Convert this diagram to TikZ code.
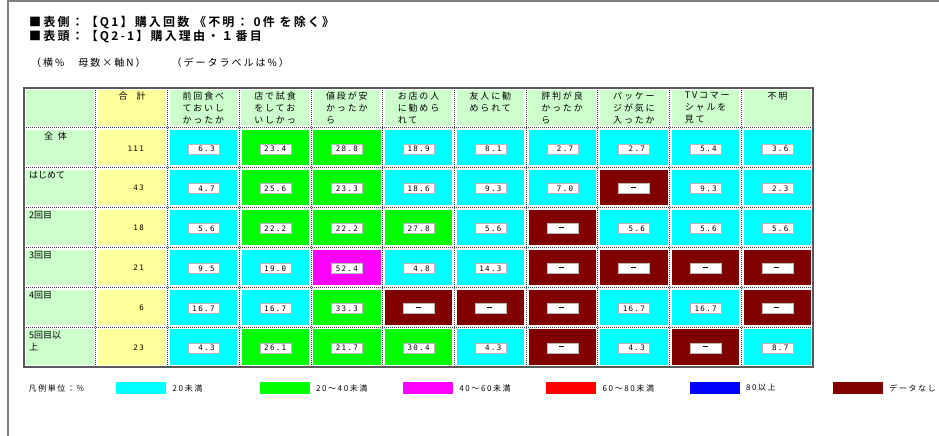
\documentclass[tikz,border=0pt]{standalone}
\usepackage{fontspec}
\newfontfamily\jp{Noto Sans CJK JP}[BoldFont={Noto Sans CJK JP Bold}]
\newfontfamily\jpls{Noto Sans CJK JP}[LetterSpace=20]
\newfontfamily\jptitle{Noto Sans CJK JP Bold}[LetterSpace=18]
\newfontfamily\numfont{DejaVu Sans Mono}[LetterSpace=18]
\definecolor{hdr}{HTML}{CCFFCC}
\definecolor{totc}{HTML}{FFFF99}
\definecolor{fillC}{HTML}{00FFFF}
\definecolor{fillG}{HTML}{00FF00}
\definecolor{fillM}{HTML}{FF00FF}
\definecolor{fillR}{HTML}{FF0000}
\definecolor{fillB}{HTML}{0000FF}
\definecolor{fillD}{HTML}{800000}
\newcommand\dashmark{\makebox[0pt][c]{\rule[2.6pt]{5pt}{0.9pt}}\rule{11.5pt}{0pt}}
\tikzset{
  titletext/.style={anchor=west,inner sep=0,font=\jptitle\fontsize{12}{14}\selectfont},
  subtext/.style={anchor=west,inner sep=0,font=\jpls\fontsize{10}{12}\selectfont},
  hdrtext/.style={anchor=north west,inner sep=0,align=left,font=\jpls\fontsize{9}{12}\selectfont},
  rowtext/.style={anchor=north west,inner sep=0,align=left,font=\jp\fontsize{9}{12}\selectfont},
  numtext/.style={anchor=east,inner sep=0,font=\numfont\fontsize{7.5}{9}\selectfont},
  valbox/.style={rectangle,minimum width=31pt,minimum height=10pt,inner sep=0,fill=white,draw=gray!55,line width=0.5pt},
  legtext/.style={anchor=west,inner sep=0,font=\jpls\fontsize{8}{10}\selectfont},
  gridline/.style={draw=black!75,line width=0.8pt,dash pattern=on 1pt off 1pt},
  frameline/.style={draw=black!65,line width=1.3pt},
  swatch/.style={rectangle,minimum width=50pt,minimum height=12pt,inner sep=0}
}
\begin{document}
\begin{tikzpicture}[x=1pt,y=-1pt]
\useasboundingbox (0,0) rectangle (939,436);
\fill[white] (0,0) rectangle (939,436);
% window frame
\draw[gray,line width=2pt] (7.7,1) -- (939,1);
\draw[gray,line width=2pt] (7.7,0) -- (7.7,436);
% titles
\node[titletext] (t1) at (29,22.5) {■表側：【Q1】購入回数 《不明： 0件 を除く》};
\node[titletext] (t2) at (29,37) {■表頭：【Q2-1】購入理由・１番目};
\node[subtext] (t3) at (31,63) {（横\%　母数×軸N）　　（データラベルは\%）};
% header row fills
\fill[hdr] (26.3,90.3) rectangle (93.7,125.9);
\fill[totc] (98.3,90.3) rectangle (165.4,125.9);
\foreach \i in {2,...,10}{
  \pgfmathsetmacro\xl{24+\i*71.73}
  \fill[hdr] (\xl+2.3,90.3) rectangle (\xl+71.73-2.3,125.9);
}
% header texts
\node[anchor=north,inner sep=0,font=\jp\fontsize{9}{12}\selectfont] (h1) at (132,92) {合\hspace{9pt}計};
\node[hdrtext] (h2) at (182.5,92) {前回食べ\\ておいし\\かったか};
\node[hdrtext] (h3) at (254.2,92) {店で試食\\をしてお\\いしかっ};
\node[hdrtext] (h4) at (326,92) {値段が安\\かったか\\ら};
\node[hdrtext] (h5) at (397.7,92) {お店の人\\に勧めら\\れて};
\node[hdrtext] (h6) at (469.5,92) {友人に勧\\められて};
\node[hdrtext] (h7) at (541.2,92) {評判が良\\かったか\\ら};
\node[hdrtext] (h8) at (613,92) {パッケー\\ジが気に\\入ったか};
\node[hdrtext] (h9) at (684.7,92) {TVコマー\\シャルを\\見て};
\node[anchor=north,inner sep=0,font=\jpls\fontsize{9}{12}\selectfont] (h10) at (777.5,92) {不明};
% body rows
\foreach \r/\tot/\vals in {
 1/111/{6.3/C,23.4/G,28.8/G,18.9/C,8.1/C,2.7/C,2.7/C,5.4/C,3.6/C},
 2/43/{4.7/C,25.6/G,23.3/G,18.6/C,9.3/C,7.0/C,\dashmark/D,9.3/C,2.3/C},
 3/18/{5.6/C,22.2/G,22.2/G,27.8/G,5.6/C,\dashmark/D,5.6/C,5.6/C,5.6/C},
 4/21/{9.5/C,19.0/C,52.4/M,4.8/C,14.3/C,\dashmark/D,\dashmark/D,\dashmark/D,\dashmark/D},
 5/6/{16.7/C,16.7/C,33.3/G,\dashmark/D,\dashmark/D,\dashmark/D,16.7/C,16.7/C,\dashmark/D},
 6/23/{4.3/C,26.1/G,21.7/G,30.4/G,4.3/C,\dashmark/D,4.3/C,\dashmark/D,8.7/C}}{
  \pgfmathsetmacro\yt{88+\r*39.86}
  \fill[hdr] (26.3,\yt+2.3) rectangle (93.7,\yt+39.86-2.3);
  \fill[totc] (98.3,\yt+2.3) rectangle (165.4,\yt+39.86-2.3);
  \node[numtext] (n\r) at (144,\yt+20.5) {\tot};
  \foreach \v/\c [count=\i] in \vals {
    \pgfmathsetmacro\xl{96+\i*71.73}
    \fill[fill\c] (\xl+2.3,\yt+2.3) rectangle (\xl+71.73-2.3,\yt+39.86-2.3);
    \node[valbox] (b\r-\i) at (\xl+36,\yt+21) {};
    \node[numtext] (v\r-\i) at (\xl+47,\yt+21) {\v};
  }
}
% row labels
\node[anchor=north,inner sep=0,font=\jp\fontsize{9}{12}\selectfont] (r1) at (55.5,132) {全\hspace{5pt}体};
\node[rowtext] (r2) at (29,171.6) {はじめて};
\node[rowtext] (r3) at (29,211.5) {2回目};
\node[rowtext] (r4) at (29,251.3) {3回目};
\node[rowtext] (r5) at (29,291.2) {4回目};
\node[rowtext] (r6) at (29,331) {5回目以\\上};
% grid
\foreach \i in {1,...,10}{
  \draw[gridline] (24+\i*71.73,88) -- (24+\i*71.73,367);
}
\foreach \j in {1,...,6}{
  \draw[gridline] (24,88+\j*39.86) -- (813,88+\j*39.86);
}
\draw[frameline] (24,88) rectangle (813,367);
% legend
\node[legtext] (lg0) at (28.5,388) {凡例単位：\%};
\foreach \k/\c/\t in {0/C/20未満,1/G/20〜40未満,2/M/40〜60未満,3/R/60〜80未満,4/B/80以上,5/D/データなし}{
  \pgfmathsetmacro\xs{116+\k*143.33}
  \node[swatch,fill=fill\c,anchor=west] (sw\k) at (\xs,388) {};
  \node[legtext] (lt\k) at (\xs+56.5,388) {\t};
}
\end{tikzpicture}
\end{document}
